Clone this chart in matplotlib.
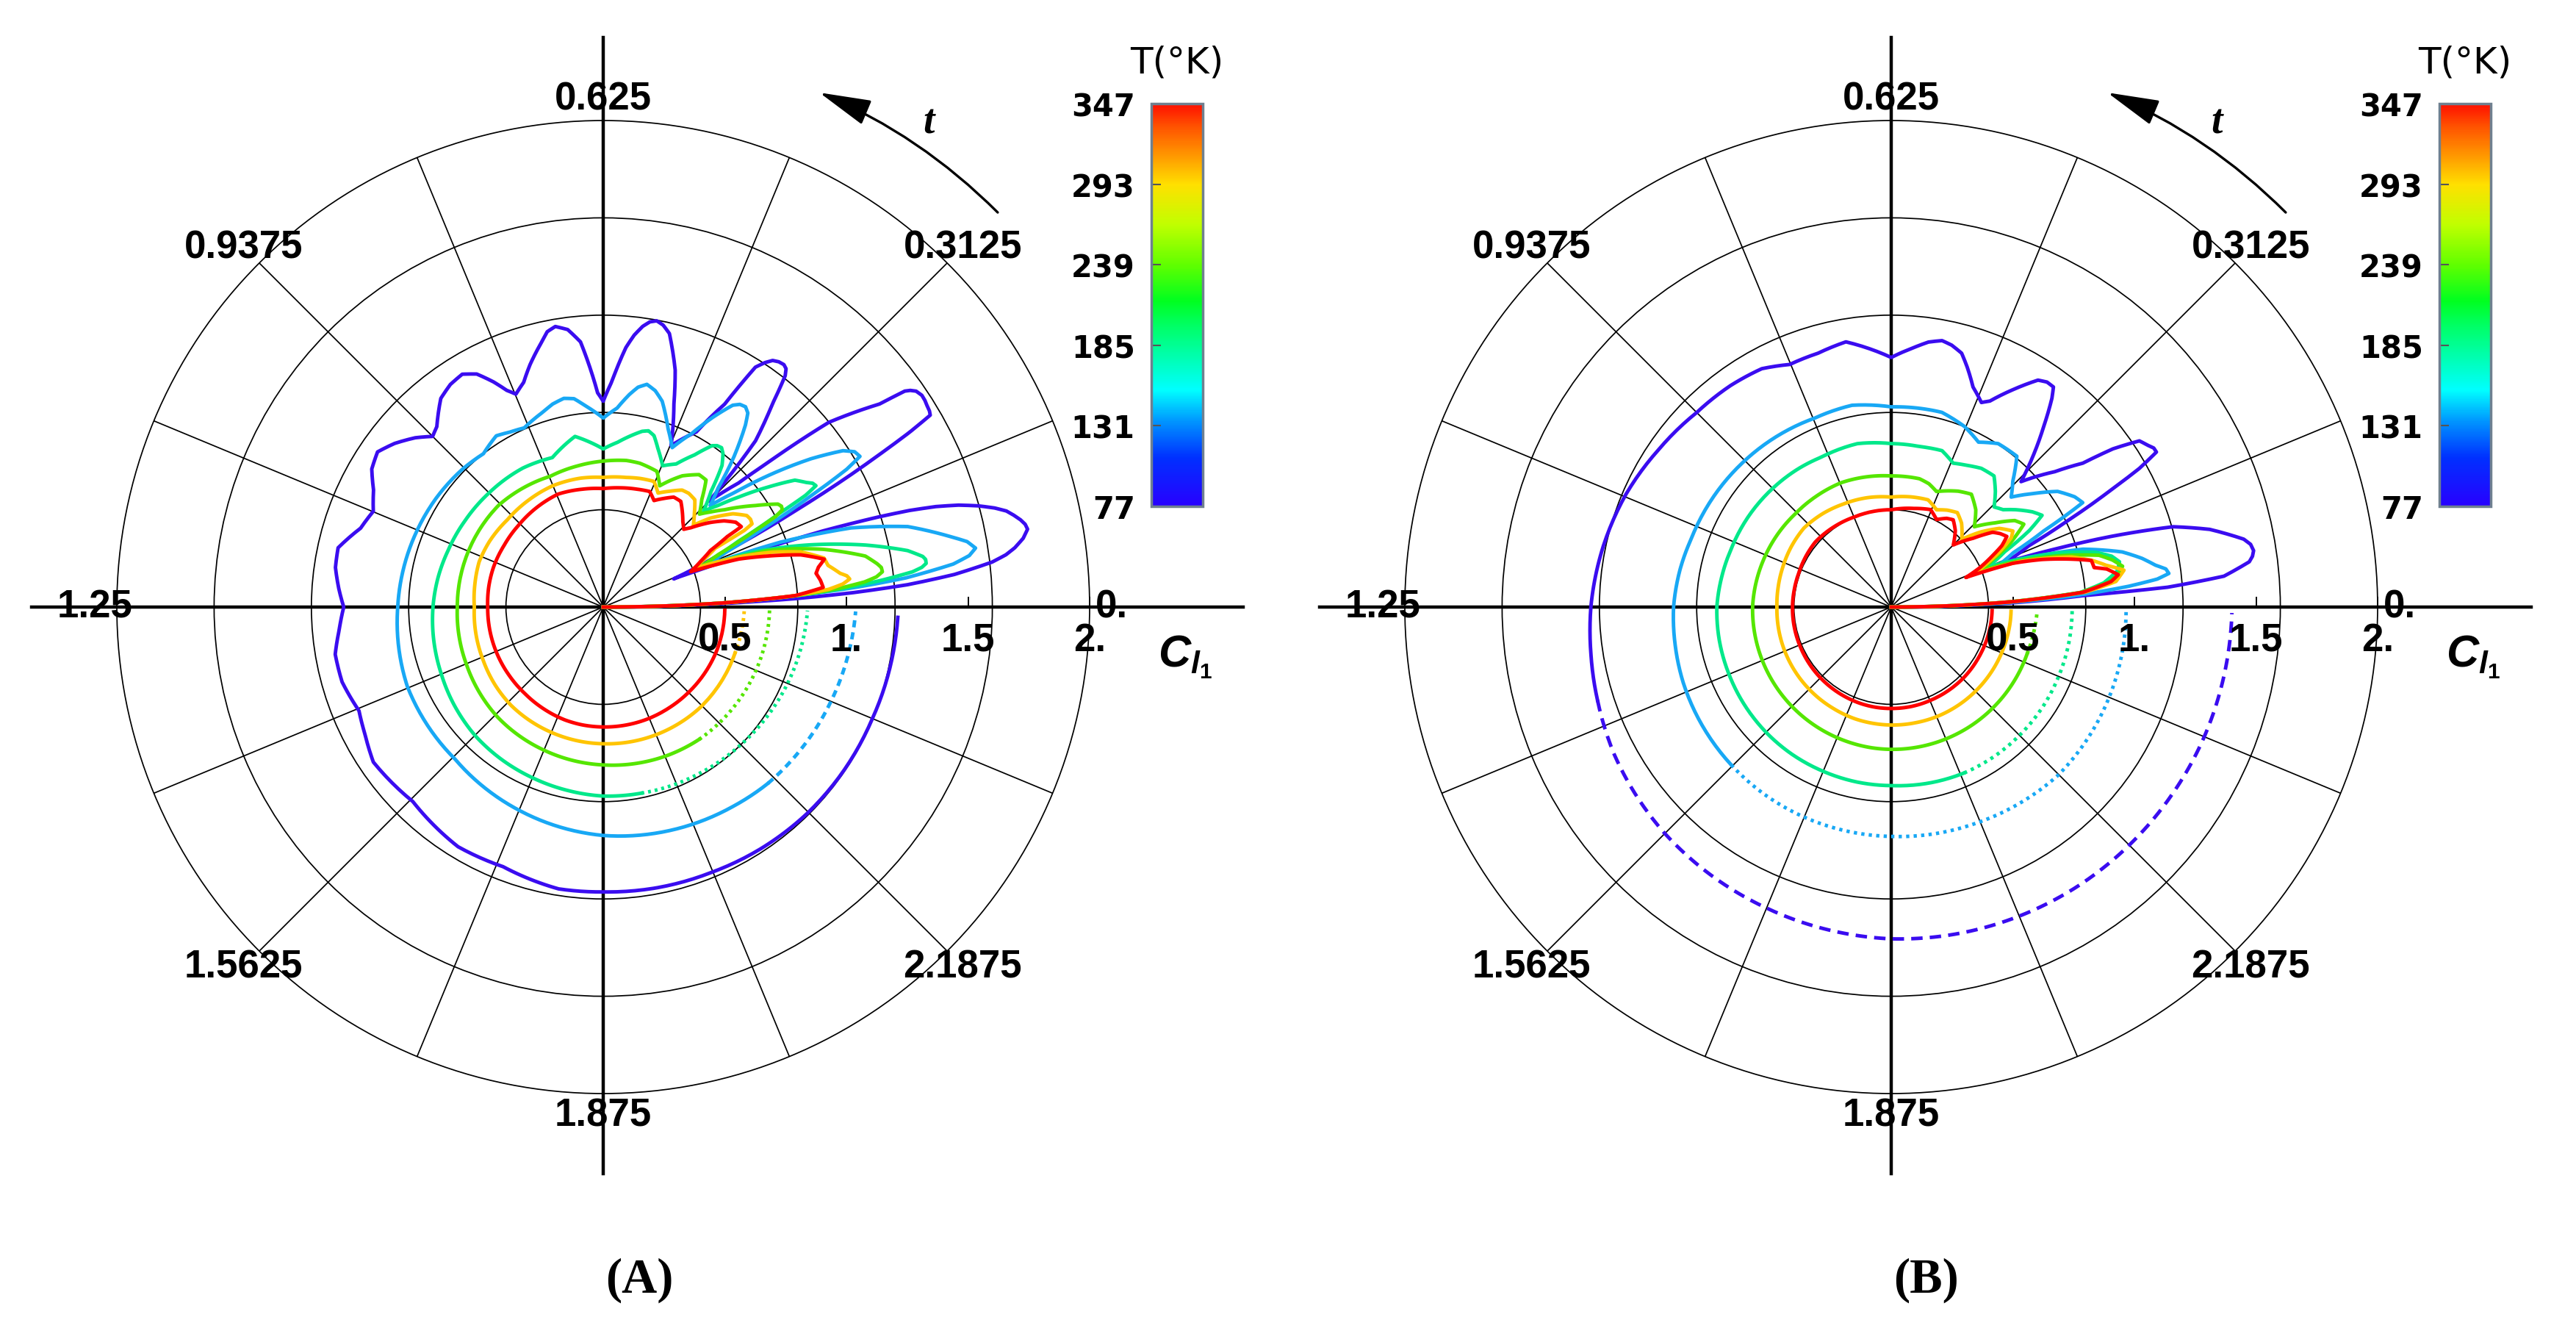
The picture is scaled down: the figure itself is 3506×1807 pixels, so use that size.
import numpy as np
import matplotlib
matplotlib.use("Agg")
import matplotlib.pyplot as plt
from matplotlib.colors import LinearSegmentedColormap, Normalize
from matplotlib.cm import ScalarMappable

# mathtext for the C_l1 axis name
plt.rcParams['mathtext.fontset'] = 'custom'
plt.rcParams['mathtext.it'] = 'Liberation Sans:italic:bold'
plt.rcParams['mathtext.rm'] = 'Liberation Sans:bold'

# --- data ---------------------------------------------------------------
# temperatures of the six curves (K) and the colour each curve is drawn in
temps = [77, 131, 185, 239, 293, 347]
line_colors = ['#3a0cf0', '#18a8f5', '#00e88a', '#55e600', '#ffc400', '#ff0000']

# angular labels = time (one turn = 2.5), radial grid / ticks
t_labels = ["0.", "0.3125", "0.625", "0.9375", "1.25", "1.5625", "1.875", "2.1875"]
r_grid = [0.4, 0.8, 1.2, 1.6]
r_ticks = [0.5, 1.0, 1.5, 2.0]
r_tick_labels = ["0.5", "1.", "1.5", "2."]

# panel A: polar angle (deg) and C_l1 for each temperature
a77_th = [0, 1, 2, 2.5, 3.3, 4.2, 5.3, 6.6, 7.4, 8.2, 9.3, 10.4, 11.1, 11.8, 12.6, 13.4, 14.2, 15.1, 16, 16.8,
          17.5, 18.1, 19.1, 19.9, 20.9, 21.8, 24, 26.6, 28.9, 29.7, 30.4, 31, 31.7, 32.7, 33.6, 34.6, 35.2, 35.6,
          36.3, 39.3, 41.3, 42.5, 45, 47.5, 50.2, 51.8, 52.5, 53.3, 54.4, 55.5, 56.5, 57.6, 59.1, 62, 67.2, 70.8,
          73.1, 76.4, 78, 79.4, 80.7, 82, 83.5, 85, 87.8, 90, 91.5, 94.9, 97.3, 99.7, 101.5, 103, 106.8, 109.5,
          112.3, 114, 116, 118.5, 121.2, 124.5, 127.9, 132.7, 135, 138, 141.9, 145.5, 149.2, 153, 157.4, 162,
          167.4, 171.6, 176, 180, 185, 190, 196, 203, 208, 214, 225.6, 238.8, 248.9, 261, 270, 281, 292, 303,
          314.8, 326, 337.5, 348, 358]
a77_r = [0, 0.3, 0.6, 0.79, 1.03, 1.255, 1.45, 1.61, 1.67, 1.71, 1.75, 1.774, 1.768, 1.753, 1.73, 1.704, 1.66,
         1.597, 1.52, 1.429, 1.32, 1.195, 0.957, 0.715, 0.471, 0.312, 0.5, 0.88, 1.297, 1.45, 1.559, 1.565, 1.567,
         1.572, 1.573, 1.563, 1.545, 1.525, 1.41, 1.199, 0.895, 0.755, 0.615, 0.927, 1.087, 1.21, 1.235, 1.243,
         1.24, 1.23, 1.205, 1.168, 0.972, 0.815, 0.72, 0.884, 1.018, 1.157, 1.185, 1.197, 1.188, 1.165, 1.125,
         1.071, 0.928, 0.846, 0.881, 1.094, 1.15, 1.17, 1.155, 1.12, 1.041, 0.98, 0.946, 0.975, 1.03, 1.09, 1.119,
         1.11, 1.087, 1.009, 0.992, 1.04, 1.09, 1.126, 1.108, 1.06, 1.024, 1.049, 1.117, 1.113, 1.09, 1.067, 1.09,
         1.119, 1.117, 1.091, 1.11, 1.14, 1.119, 1.152, 1.144, 1.173, 1.171, 1.175, 1.178, 1.186, 1.193, 1.196,
         1.198, 1.205, 1.212]

a131_th = [0, 1, 2, 3.4, 4.5, 5.5, 7, 8, 9, 10.2, 11.5, 14.8, 17.7, 20.1, 21.9, 24, 26, 28, 29.5, 30.4, 31.7,
           33.1, 35.5, 38, 41, 43.5, 46, 49, 52, 53.3, 54.6, 56, 57.3, 60, 63, 66.6, 70, 74, 76.5, 78.9, 81, 83,
           86, 90, 95, 98, 100.7, 104, 107, 113.8, 118, 122, 128, 135.6, 147, 159.5, 170, 180, 191, 202, 214,
           225.8, 237, 248, 259, 270, 281, 292, 303, 313, 325, 337, 348, 359]
a131_r = [0, 0.25, 0.5, 0.8, 1.05, 1.25, 1.45, 1.52, 1.55, 1.52, 1.455, 1.295, 1.07, 0.777, 0.45, 0.55, 0.72, 0.95,
          1.15, 1.224, 1.215, 1.177, 1.05, 0.9, 0.72, 0.606, 0.68, 0.82, 0.95, 0.995, 1.01, 1.005, 0.986, 0.9, 0.8,
          0.714, 0.78, 0.88, 0.915, 0.933, 0.915, 0.88, 0.82, 0.777, 0.83, 0.865, 0.873, 0.86, 0.84, 0.805, 0.815,
          0.83, 0.80, 0.81, 0.82, 0.829, 0.837, 0.845, 0.857, 0.869, 0.871, 0.873, 0.889, 0.905, 0.922, 0.939,
          0.952, 0.965, 0.978, 0.992, 1.002, 1.013, 1.025, 1.038]

a185_th = [0, 1, 2, 3.4, 4.5, 5.5, 6.5, 7.1, 7.7, 8.4, 9, 10.5, 13.3, 16.8, 20.2, 22.1, 24, 26, 28, 28.9, 29.7,
           30.6, 31.5, 33.5, 36, 39, 41.5, 43.7, 47, 50, 52, 53.4, 54.8, 56, 59, 63, 67.2, 71, 73.5, 75.6, 77.5,
           80, 85, 90, 99.4, 108.8, 120, 135.7, 148, 160, 170, 180, 191, 202, 213, 225, 236, 248, 259, 270, 281.6,
           291, 300, 314.7, 326, 337, 348, 359]
a185_r = [0, 0.25, 0.5, 0.8, 1.0, 1.15, 1.28, 1.32, 1.34, 1.34, 1.33, 1.273, 1.108, 0.884, 0.655, 0.438, 0.5, 0.62,
          0.82, 0.95, 1.007, 1.0, 0.98, 0.945, 0.84, 0.72, 0.63, 0.57, 0.65, 0.76, 0.80, 0.816, 0.812, 0.80, 0.73,
          0.66, 0.63, 0.69, 0.735, 0.748, 0.74, 0.72, 0.68, 0.65, 0.711, 0.649, 0.66, 0.664, 0.67, 0.679, 0.69,
          0.70, 0.71, 0.72, 0.733, 0.746, 0.753, 0.76, 0.768, 0.777, 0.781, 0.786, 0.79, 0.80, 0.81, 0.82, 0.83,
          0.84]

a239_th = [0, 1, 2, 3.4, 4.5, 5.5, 6.3, 7.2, 8.1, 9, 11, 14.7, 17, 19, 21.2, 22.4, 24.5, 26.5, 27.7, 28.5, 29.5,
           30.5, 33.7, 36, 38.7, 41.5, 44, 47.5, 51, 54.1, 58.9, 62, 65, 68.4, 75.7, 81, 90, 100, 112, 124, 135.8,
           147, 158.5, 170, 180, 192, 203, 214, 226, 237, 248, 259, 270, 282, 294, 306, 318, 330, 342, 352, 359]
a239_r = [0, 0.25, 0.5, 0.8, 0.97, 1.08, 1.13, 1.157, 1.155, 1.14, 1.098, 0.935, 0.82, 0.711, 0.5, 0.426, 0.52,
          0.68, 0.8, 0.838, 0.842, 0.834, 0.752, 0.70, 0.64, 0.59, 0.55, 0.6, 0.672, 0.672, 0.63, 0.59, 0.55, 0.6,
          0.61, 0.61, 0.6, 0.59, 0.58, 0.59, 0.6, 0.6, 0.6, 0.6, 0.6, 0.605, 0.61, 0.618, 0.627, 0.632, 0.637,
          0.643, 0.649, 0.657, 0.665, 0.672, 0.675, 0.678, 0.681, 0.683, 0.684]

a293_th = [0, 1, 2, 3.4, 4.5, 5.5, 6.5, 7.3, 8.1, 10.5, 12.5, 15.6, 18, 20.3, 21.8, 22.9, 25, 27.7, 28.5, 29.2,
           30.8, 32.5, 35.7, 39.7, 42.2, 46, 49.5, 53, 56, 60, 64.3, 68, 74, 80, 90, 100, 112.7, 125, 137.7, 150,
           160, 170, 180, 192, 204, 216, 227, 238, 250, 260, 270, 281, 292, 303, 314, 327, 340.5, 350, 358.5]
a293_r = [0, 0.25, 0.5, 0.79, 0.93, 0.99, 1.02, 1.01, 0.984, 0.94, 0.93, 0.843, 0.73, 0.594, 0.49, 0.403, 0.45,
          0.52, 0.66, 0.701, 0.705, 0.70, 0.657, 0.572, 0.5, 0.54, 0.58, 0.585, 0.58, 0.55, 0.52, 0.557, 0.55,
          0.541, 0.533, 0.538, 0.54, 0.536, 0.533, 0.54, 0.543, 0.536, 0.53, 0.535, 0.54, 0.548, 0.554, 0.556,
          0.558, 0.56, 0.562, 0.565, 0.568, 0.571, 0.574, 0.574, 0.574, 0.577, 0.58]

a347_th = [0, 1, 2, 3.4, 5.1, 7, 9, 10.5, 12.2, 14.8, 17.3, 19.5, 20.6, 22, 25, 27.8, 29.6, 30.2, 32.6, 35.5, 38.3,
           42.2, 44, 47, 50.5, 53.7, 57.3, 61, 64.5, 68.1, 74, 82,
           90, 100, 111.8, 124, 136, 148, 160, 170, 180, 192, 204, 216, 228, 240, 251, 260, 270, 281, 292, 303,
           314.5, 327, 339.7, 350, 358.5]
a347_r = [0, 0.25, 0.5, 0.79, 0.908, 0.9, 0.886, 0.9, 0.93, 0.84, 0.704, 0.59, 0.495, 0.388, 0.44, 0.498, 0.587,
          0.657, 0.647, 0.61, 0.561, 0.485, 0.46, 0.48, 0.511, 0.539, 0.537, 0.51, 0.485, 0.512, 0.504, 0.495,
          0.487, 0.492, 0.5, 0.492, 0.484, 0.48, 0.48, 0.478, 0.475, 0.476, 0.477, 0.478, 0.48, 0.485, 0.49,
          0.492, 0.493, 0.494, 0.495, 0.495, 0.496, 0.498, 0.5, 0.5, 0.5]

# panel B
b77_th = [0, 1, 2, 3.4, 4.1, 5.3, 7.2, 8, 8.85, 9.9, 10.9, 13.7, 15.9, 17.8, 19.5, 21, 21.4, 24, 26, 28, 29.2,
          30.3, 31.2, 32, 33.8, 35.5, 36.9, 39.6, 44, 47, 49.8, 52.4, 53.6, 55.3, 57.1, 60.8, 64.4, 66.2, 69.6,
          72.4, 74.5, 77, 79.2, 82, 85, 90, 99.7, 106.1, 112.7, 118.5, 126, 135, 146, 156.9, 168, 180, 189, 197.6,
          208, 216, 224.6, 236, 248, 259, 270, 281, 292, 303, 314.9, 326, 337, 348, 359]
b77_r = [0, 0.25, 0.5, 0.79, 1.139, 1.374, 1.484, 1.5, 1.508, 1.5, 1.476, 1.348, 1.205, 0.95, 0.713, 0.534, 0.51,
         0.62, 0.8, 1.02, 1.17, 1.263, 1.262, 1.25, 1.228, 1.12, 0.985, 0.873, 0.742, 0.86, 0.971, 1.083, 1.124,
         1.125, 1.111, 1.023, 0.939, 0.919, 0.965, 1.034, 1.083, 1.105, 1.115, 1.1, 1.071, 1.026, 1.106, 1.086,
         1.081, 1.115, 1.125, 1.131, 1.155, 1.185, 1.21, 1.235, 1.25, 1.267, 1.29, 1.303, 1.316, 1.328, 1.34,
         1.352, 1.364, 1.37, 1.375, 1.38, 1.384, 1.388, 1.393, 1.397, 1.401]

b131_th = [0, 1, 2, 3.5, 5, 6, 6.9, 7.9, 9, 11, 13.4, 16.8, 19.2, 21.5, 24, 26.5, 28.6, 31, 34.8, 38.5, 42.5, 46,
           50.2, 56.8, 62.1, 67.9, 75.4,
           90, 101, 112, 124, 136, 148, 161.3, 170, 180, 190, 200, 212, 224.6, 236, 248, 259, 270, 281, 292, 303,
           314.7, 326, 337, 348, 359]
b131_r = [0, 0.22, 0.45, 0.75, 0.98, 1.1, 1.15, 1.14, 1.1, 1.05, 0.977, 0.823, 0.64, 0.48, 0.55, 0.7, 0.897, 0.88,
          0.833, 0.75, 0.669, 0.72, 0.807, 0.803, 0.767, 0.801, 0.827,
          0.823, 0.845, 0.838, 0.845, 0.852, 0.86, 0.869, 0.882, 0.895, 0.902, 0.91, 0.917, 0.924, 0.93, 0.935,
          0.939, 0.943, 0.949, 0.955, 0.964, 0.974, 0.972, 0.97, 0.968, 0.966]

b185_th = [0, 1.3, 2.6, 4.4, 6.5, 9, 11.2, 13, 15, 18, 21, 22.5, 26, 29, 31.3, 34, 38, 41, 44.2, 48, 51.9, 57, 62,
           66.7, 72, 80,
           90, 101.7, 115, 124, 133.6, 147, 160, 170, 180, 191, 202, 213, 225, 236, 248, 259, 270, 282, 293.7,
           305, 316, 327, 338, 348, 359]
b185_r = [0, 0.25, 0.5, 0.78, 0.88, 0.94, 0.957, 0.93, 0.87, 0.72, 0.53, 0.43, 0.52, 0.65, 0.726, 0.70, 0.65, 0.61,
          0.59, 0.64, 0.685, 0.68, 0.66, 0.644, 0.676, 0.67,
          0.672, 0.686, 0.68, 0.685, 0.689, 0.695, 0.70, 0.708, 0.717, 0.72, 0.722, 0.725, 0.728, 0.73, 0.731,
          0.733, 0.734, 0.74, 0.745, 0.746, 0.746, 0.746, 0.745, 0.745, 0.744]

b239_th = [0, 1.3, 2.6, 4.4, 6.5, 8, 10, 12, 14, 17, 20, 22, 25, 28, 32, 35, 39, 44, 49, 54.6, 60, 68.6, 73, 77.6,
           90, 101, 112, 124, 135.8, 148, 160, 170, 180, 192, 204, 216, 228, 240, 252, 262, 270, 282, 294, 305,
           318, 330, 341, 350, 358]
b239_r = [0, 0.25, 0.5, 0.78, 0.9, 0.94, 0.966, 0.93, 0.88, 0.72, 0.55, 0.4, 0.46, 0.55, 0.643, 0.62, 0.55, 0.475,
          0.53, 0.569, 0.55, 0.51, 0.53, 0.54,
          0.539, 0.545, 0.551, 0.55, 0.55, 0.555, 0.56, 0.565, 0.57, 0.572, 0.574, 0.576, 0.578, 0.58, 0.582,
          0.584, 0.585, 0.586, 0.587, 0.588, 0.589, 0.59, 0.591, 0.595, 0.6]

b293_th = [0, 1.3, 2.6, 4.4, 6.5, 9, 11, 13, 15.5, 19.5, 21.8, 24, 27, 30, 32, 36, 40, 43.8, 50, 55, 60, 65, 71, 80,
           90, 102, 115, 126, 137.8, 149, 160, 170, 180, 192, 204, 216, 228, 240, 252, 262, 270, 282, 294, 306,
           318, 330, 342, 352, 358]
b293_r = [0, 0.25, 0.51, 0.8, 0.93, 0.969, 0.9, 0.85, 0.77, 0.56, 0.36, 0.42, 0.5, 0.57, 0.59, 0.55, 0.48, 0.402,
          0.45, 0.474, 0.46, 0.441, 0.466, 0.46,
          0.452, 0.46, 0.467, 0.476, 0.484, 0.48, 0.475, 0.472, 0.47, 0.472, 0.474, 0.476, 0.478, 0.48, 0.483,
          0.484, 0.485, 0.486, 0.488, 0.489, 0.49, 0.491, 0.492, 0.493, 0.493]

b347_th = [0, 1.3, 2.6, 4.4, 6.6, 8.1, 10, 11, 13.1, 15.1, 17.5, 19.8, 21.6, 24, 27, 29, 31.4, 34, 36.4, 40, 45, 50,
           54.6, 58, 62.6, 68, 77,
           90, 100, 112, 125, 139.5, 150, 160, 170, 180, 192, 204, 216, 228, 240, 252, 262, 270, 282, 294, 306,
           318, 330, 342, 352, 358]
b347_r = [0, 0.25, 0.51, 0.79, 0.91, 0.943, 0.9, 0.85, 0.845, 0.757, 0.65, 0.53, 0.33, 0.4, 0.47, 0.52, 0.557,
          0.54, 0.518, 0.44, 0.361, 0.41, 0.44, 0.43, 0.405, 0.432, 0.416,
          0.4, 0.4, 0.4, 0.405, 0.411, 0.408, 0.405, 0.405, 0.406, 0.407, 0.408, 0.41, 0.412, 0.414, 0.416,
          0.417, 0.417, 0.417, 0.416, 0.416, 0.416, 0.415, 0.415, 0.415, 0.415]

# angle (deg) after which each curve continues as a broken line
a_solid_end = [360, 313, 281.6, 306, 340.5, 360]
b_solid_end = [197.6, 224.6, 293.7, 341, 360, 360]
a_broken = [None, (0, (2.0, 1.4)), (0, (0.8, 1.1)), (0, (0.8, 1.1)), (0, (0.8, 1.1)), None]
b_broken = [(0, (3.2, 2.0)), (0, (0.9, 1.2)), (0, (0.9, 1.2)), (0, (0.9, 1.2)), None, None]

panel_a = [(a77_th, a77_r), (a131_th, a131_r), (a185_th, a185_r),
           (a239_th, a239_r), (a293_th, a293_r), (a347_th, a347_r)]
panel_b = [(b77_th, b77_r), (b131_th, b131_r), (b185_th, b185_r),
           (b239_th, b239_r), (b293_th, b293_r), (b347_th, b347_r)]

# colour scale of the legend bar
cbar_stops = [(0.0, '#2800ff'), (0.12, '#0030ff'), (0.206, '#0090ff'), (0.288, '#00ffff'),
              (0.37, '#00ffb0'), (0.453, '#00ff60'), (0.51, '#00ff20'), (0.6, '#60ff00'),
              (0.7, '#c0ff00'), (0.8, '#ffe000'), (0.864, '#ffa000'), (0.947, '#ff5000'), (1.0, '#ff1000')]
cmap = LinearSegmentedColormap.from_list('temp', cbar_stops)

# --- figure ---------------------------------------------------------------
W, H = 3506, 1808
fig = plt.figure(figsize=(W / 100, H / 100), dpi=100)
CY = 827
R = 662  # pixels for C_l1 = 2

label_font = dict(family='Liberation Sans', fontweight='bold', fontsize=38, zorder=6)


def cart(x, y):
    # cartesian position -> (theta, r) for placing text in the polar axes
    return np.arctan2(y, x), np.hypot(x, y)


def polar_line(ax, th, rr, **kw):
    # let the polar transform bend each segment (same trick matplotlib uses for axhline)
    for ln in ax.plot(np.deg2rad(th), rr, **kw):
        ln.get_path()._interpolation_steps = 12


def draw_panel(cx, curves, solid_end, broken, caption, cap_x):
    ax = fig.add_axes([(cx - R) / W, 1 - (CY + R) / H, 2 * R / W, 2 * R / H], projection='polar')
    ax.set_ylim(0, 2.0)
    ax.set_xticks(np.deg2rad(np.arange(0, 360, 22.5)))
    ax.set_xticklabels([])
    ax.set_yticks(r_grid)
    ax.set_yticklabels([])
    ax.tick_params(length=0)
    ax.grid(True, color='black', lw=1.25)
    ax.spines['polar'].set_linewidth(1.25)

    # heavy x / y axes reaching past the outer circle
    for ang, length in zip([0, 90, 180, 270], [2.63, 2.34, 2.35, 2.33]):
        ax.plot([np.deg2rad(ang)] * 2, [0, length], color='black', lw=3.2, clip_on=False, zorder=3)

    # small ticks and labels along the positive x axis
    for x, lbl in zip(r_ticks, r_tick_labels):
        th1, r1 = cart(x, 0.04)
        ax.plot([0, th1], [x, r1], color='black', lw=1.4, clip_on=False, zorder=3)
        ax.text(*cart(x, -0.135), lbl, ha='center', va='center', **label_font)

    for i, lbl in enumerate(t_labels):
        ax.text(np.deg2rad(45 * i), 2.09, lbl, ha='center', va='center', **label_font)

    ax.text(*cart(2.28, -0.245), r'$C_{l_1}$', fontsize=44, ha='left', va='baseline', zorder=6)

    # direction of time
    ax.annotate('', xy=(np.deg2rad(67.2), 2.294), xytext=(np.deg2rad(45), 2.294),
                arrowprops=dict(arrowstyle='-|>,head_length=2.2,head_width=0.55',
                                connectionstyle='arc3,rad=0.098', color='black', lw=2.4,
                                mutation_scale=20, shrinkA=0, shrinkB=0),
                annotation_clip=False)
    ax.text(np.deg2rad(56.1), 2.4, 't', family='Liberation Serif', fontweight='bold', style='italic',
            fontsize=40, ha='center', va='center')

    # the six curves, coldest first so red ends up on top
    for (th, rr), col, end, ls in zip(curves, line_colors, solid_end, broken):
        th = np.asarray(th, dtype=float)
        rr = np.asarray(rr, dtype=float)
        n = np.searchsorted(th, end, side='right')
        polar_line(ax, th[:n], rr[:n], color=col, lw=3.5, solid_joinstyle='round', zorder=4)
        if n < len(th):
            polar_line(ax, th[n - 1:], rr[n - 1:], color=col, lw=3.5, ls=ls,
                       dash_capstyle='butt', zorder=4)

    # colour bar
    bx = cx + 746
    cax = fig.add_axes([bx / W, 1 - 690 / H, 70 / W, 548 / H])
    cb = fig.colorbar(ScalarMappable(norm=Normalize(77, 347), cmap=cmap), cax=cax, ticks=temps)
    cax.yaxis.set_ticks_position('left')
    cax.yaxis.set_label_position('left')
    cax.tick_params(direction='in', length=9, width=1.5, color='#555555', labelsize=30, pad=16)
    for t in cax.get_yticklabels():
        t.set_fontweight('bold')
    cb.outline.set_edgecolor('#6f8090')
    cb.outline.set_linewidth(2.5)
    fig.text((bx + 35) / W, 1 - 85 / H, 'T(°K)', ha='center', va='center', fontsize=36)

    fig.text(cap_x / W, 1 - 1742 / H, caption, family='Liberation Serif', fontweight='bold',
             fontsize=48, ha='center', va='center')


draw_panel(821, panel_a, a_solid_end, a_broken, '(A)', 870)
draw_panel(2574, panel_b, b_solid_end, b_broken, '(B)', 2622)

fig.savefig('out.png', dpi=100, facecolor='white')
